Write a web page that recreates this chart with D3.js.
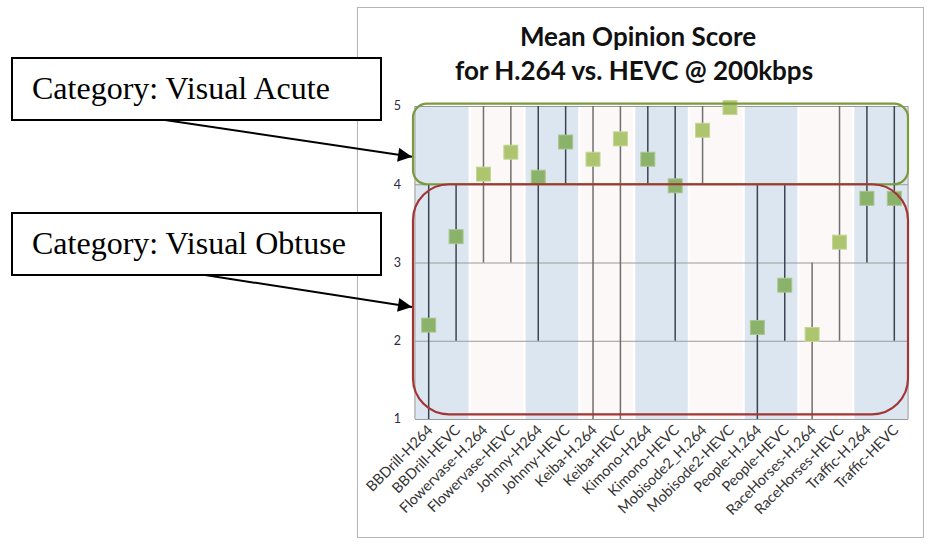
<!DOCTYPE html>
<html>
<head>
<meta charset="utf-8">
<script src="https://cdn.jsdelivr.net/npm/d3@7"></script>
<style>
  body { margin: 0; background: #fff; }
  svg { display: block; }
</style>
</head>
<body>
<div id="chart"></div>
<script>
const categories = [
  "BBDrill-H264", "BBDrill-HEVC", "Flowervase-H.264", "Flowervase-HEVC",
  "Johnny-H264", "Johnny-HEVC", "Keiba-H.264", "Keiba-HEVC",
  "Kimono-H264", "Kimono-HEVC", "Mobisode2_H.264", "Mobisode2-HEVC",
  "People-H.264", "People-HEVC", "RaceHorses-H.264", "RaceHorses-HEVC",
  "Traffic-H.264", "Traffic-HEVC"
];
const videos = ["BBDrill", "Flowervase", "Johnny", "Keiba", "Kimono", "Mobisode2", "People", "RaceHorses", "Traffic"];
const meanScores = [2.20, 3.33, 4.13, 4.41, 4.09, 4.54, 4.32, 4.58, 4.32, 3.98, 4.69, 4.98, 2.17, 2.71, 2.08, 3.26, 3.82, 3.82];
const minScores  = [1, 2, 3, 3, 2, 4, 1, 1, 4, 2, 4, 5, 1, 2, 1, 2, 3, 2];
const maxScores  = [4, 4, 5, 5, 5, 5, 5, 5, 5, 5, 5, 5, 4, 4, 3, 5, 5, 5];
const yTicks = [1, 2, 3, 4, 5];
const groupNames = ["Visual Acute", "Visual Obtuse"];
const groupHigh = [5.03, 4.0];
const groupLow = [4.0, 1.06];
const groupPointAt = [4.35, 2.43];

const W = 927, H = 544;
const plot = { left: 415, right: 908, top: 106, bottom: 419 };

const svg = d3.select("#chart").append("svg")
  .attr("width", W).attr("height", H)
  .style("font-family", "Lato, 'Open Sans', sans-serif");

svg.append("defs").append("marker")
  .attr("id", "arrow")
  .attr("viewBox", "0 0 10 10")
  .attr("refX", 10).attr("refY", 5)
  .attr("markerWidth", 16).attr("markerHeight", 14)
  .attr("markerUnits", "userSpaceOnUse")
  .attr("orient", "auto")
  .append("path").attr("d", "M0,0L10,5L0,10Z").attr("fill", "#000");

// chart frame
svg.append("rect")
  .attr("x", 357.5).attr("y", 7.5).attr("width", 566).attr("height", 530)
  .attr("fill", "#fff").attr("stroke", "#b5b5b5").attr("stroke-width", 1);

const x = d3.scaleBand().domain(categories).range([plot.left, plot.right]);
const xv = d3.scaleBand().domain(videos).range([plot.left, plot.right]).paddingInner(0.04).paddingOuter(0.02);
const y = d3.scaleLinear().domain([1, 5]).range([plot.bottom, plot.top]);

// alternating video bands
svg.append("g").selectAll("rect").data(videos).join("rect")
  .attr("x", d => xv(d)).attr("y", plot.top)
  .attr("width", xv.bandwidth()).attr("height", plot.bottom - plot.top)
  .attr("fill", (d, i) => i % 2 === 0 ? "#dce6f1" : "#fcf8f7");

// gridlines
svg.append("g").selectAll("line").data(yTicks).join("line")
  .attr("x1", plot.left).attr("x2", plot.right)
  .attr("y1", d => y(d) + 0.5).attr("y2", d => y(d) + 0.5)
  .attr("stroke", "#9a9a9a").attr("stroke-width", 1.2);
svg.append("g").selectAll("line").data([plot.left, plot.right]).join("line")
  .attr("x1", d => d).attr("x2", d => d)
  .attr("y1", plot.top).attr("y2", plot.bottom)
  .attr("stroke", "#9a9a9a").attr("stroke-width", 1.2);

// y axis labels
svg.append("g").selectAll("text").data(yTicks).join("text")
  .attr("x", 401).attr("y", d => y(d)).attr("dy", "0.35em")
  .attr("text-anchor", "end")
  .attr("font-size", 12.5).attr("fill", "#2a2a40")
  .text(d => d);

// high-low lines
const idx = d3.range(categories.length);
const cx = i => x(categories[i]) + x.bandwidth() / 2;
svg.append("g").selectAll("line").data(idx.filter(i => maxScores[i] > minScores[i])).join("line")
  .attr("x1", cx).attr("x2", cx)
  .attr("y1", i => y(maxScores[i])).attr("y2", i => y(minScores[i]))
  .attr("stroke", i => Math.floor(i / 2) % 2 === 0 ? "#3c4450" : "#6f6f6f")
  .attr("stroke-width", 1.5);

// mean markers
svg.append("g").selectAll("rect").data(idx).join("rect")
  .attr("x", i => cx(i) - 7).attr("y", i => y(meanScores[i]) - 7)
  .attr("width", 14).attr("height", 14)
  .attr("fill", i => Math.floor(i / 2) % 2 === 0 ? "#8bb26a" : "#adc56e")
  .attr("stroke", i => Math.floor(i / 2) % 2 === 0 ? "#a9c68f" : "#c4d797")
  .attr("stroke-width", 1);

// category outlines
const groupColors = ["#7a9a3c", "#a33535"];
const groupRadius = [14, 36];
svg.append("g").selectAll("rect").data(groupNames).join("rect")
  .attr("x", plot.left - 2).attr("width", plot.right - plot.left + 2)
  .attr("y", (d, i) => y(groupHigh[i]))
  .attr("height", (d, i) => y(groupLow[i]) - y(groupHigh[i]))
  .attr("rx", (d, i) => groupRadius[i])
  .attr("fill", "none")
  .attr("stroke", (d, i) => groupColors[i])
  .attr("stroke-width", 2.2);

// x labels
svg.append("g").selectAll("text").data(categories).join("text")
  .attr("transform", d => `translate(${x(d) + x.bandwidth() / 2 + 5},${plot.bottom + 12}) rotate(-45)`)
  .attr("text-anchor", "end")
  .attr("font-size", 14.5).attr("fill", "#333")
  .text(d => d);

// title
const title = svg.append("text")
  .attr("text-anchor", "middle")
  .attr("font-size", 26).attr("font-weight", "bold").attr("fill", "#111");
title.append("tspan").attr("x", 638).attr("y", 46).text("Mean Opinion Score");
title.append("tspan").attr("x", 634).attr("y", 80).text("for H.264 vs. HEVC @ 200kbps");

// annotation boxes with arrows
const boxTop = [58, 213];
const boxStart = [165, 205];
const notes = svg.append("g");
groupNames.forEach((name, i) => {
  notes.append("line")
    .attr("x1", boxStart[i]).attr("y1", boxTop[i] + 62)
    .attr("x2", plot.left - 3).attr("y2", y(groupPointAt[i]))
    .attr("stroke", "#000").attr("stroke-width", 2)
    .attr("marker-end", "url(#arrow)");
  notes.append("rect")
    .attr("x", 12).attr("y", boxTop[i]).attr("width", 369).attr("height", 62)
    .attr("fill", "#fff").attr("stroke", "#000").attr("stroke-width", 2);
  notes.append("text")
    .attr("x", 32).attr("y", boxTop[i] + 41)
    .attr("font-family", "'Liberation Serif', 'Times New Roman', serif")
    .attr("font-size", 32).attr("fill", "#000")
    .text("Category: " + name);
});
</script>
</body>
</html>
